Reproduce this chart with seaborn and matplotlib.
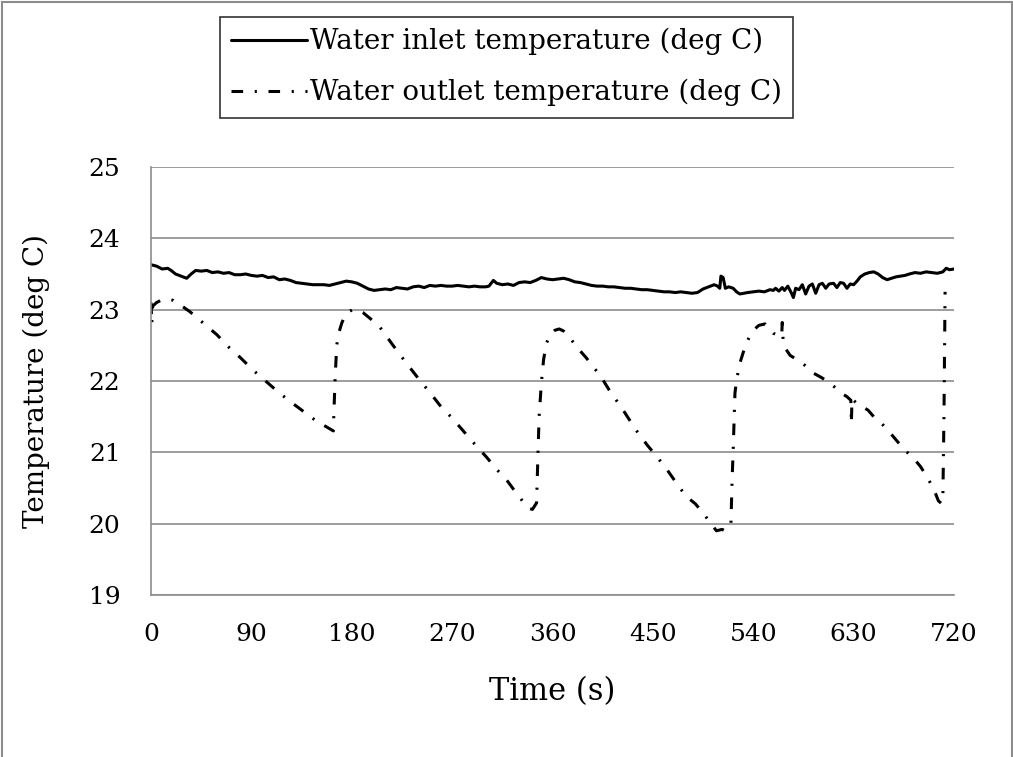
import numpy as np
import pandas as pd
import matplotlib
matplotlib.use("Agg")
import matplotlib.pyplot as plt
import seaborn as sns
from matplotlib.patches import Rectangle

# ---------------- data ----------------
inlet_t = [0, 5, 10, 15, 18, 22, 27, 32, 36, 40, 45, 50, 55, 60, 65, 70, 75, 80, 85, 90,
           95, 100, 105, 110, 115, 120, 125, 130, 135, 140, 145, 150, 155, 160, 165, 170,
           175, 180, 185, 190, 195, 200, 205, 210, 215, 220, 225, 230, 235, 240, 245, 250,
           255, 260, 265, 270, 275, 280, 285, 290, 295, 300, 303, 307, 310, 315, 320, 325,
           330, 335, 340, 345, 350, 355, 360, 365, 370, 375, 380, 385, 390, 395, 400, 405,
           410, 415, 420, 425, 430, 435, 440, 445, 450, 455, 460, 465, 470, 475, 480, 485,
           490, 495, 500, 505, 508, 510, 511, 513, 515, 518, 522, 525, 528, 535, 540, 545,
           550, 555, 558, 560, 563, 566, 568, 571, 574, 576, 578, 581, 584, 587, 590, 593,
           596, 599, 602, 605, 608, 612, 615, 618, 621, 624, 627, 630, 633, 636, 640, 644,
           648, 652, 656, 660, 664, 668, 672, 676, 680, 685, 690, 695, 700, 705, 710, 713,
           716, 720]
inlet_v = [23.63, 23.61, 23.57, 23.58, 23.55, 23.50, 23.47, 23.44, 23.50, 23.55, 23.54, 23.55,
           23.52, 23.53, 23.51, 23.52, 23.49, 23.49, 23.50, 23.48, 23.47, 23.48, 23.45, 23.46,
           23.42, 23.43, 23.41, 23.38, 23.37, 23.36, 23.35, 23.35, 23.35, 23.34, 23.36, 23.38,
           23.40, 23.39, 23.37, 23.33, 23.29, 23.27, 23.28, 23.29, 23.28, 23.31, 23.30, 23.29,
           23.32, 23.33, 23.31, 23.34, 23.33, 23.34, 23.33, 23.33, 23.34, 23.33, 23.32, 23.33,
           23.32, 23.32, 23.33, 23.41, 23.37, 23.35, 23.36, 23.34, 23.38, 23.39, 23.38, 23.41,
           23.45, 23.43, 23.42, 23.43, 23.44, 23.42, 23.39, 23.38, 23.36, 23.34, 23.33, 23.33,
           23.32, 23.32, 23.31, 23.30, 23.30, 23.29, 23.28, 23.28, 23.27, 23.26, 23.25, 23.25,
           23.24, 23.25, 23.24, 23.23, 23.24, 23.29, 23.32, 23.35, 23.33, 23.30, 23.47, 23.45,
           23.30, 23.32, 23.30, 23.25, 23.22, 23.24, 23.25, 23.26, 23.25, 23.28, 23.27, 23.30,
           23.26, 23.31, 23.27, 23.33, 23.24, 23.17, 23.30, 23.28, 23.35, 23.22, 23.33, 23.36,
           23.23, 23.35, 23.37, 23.30, 23.36, 23.37, 23.31, 23.38, 23.37, 23.30, 23.36, 23.35,
           23.40, 23.46, 23.50, 23.52, 23.53, 23.50, 23.45, 23.42, 23.44, 23.46, 23.47, 23.48,
           23.50, 23.52, 23.51, 23.53, 23.52, 23.51, 23.53, 23.58, 23.56, 23.57]

outlet_t = [0, 0.7, 1.5, 5, 10, 15, 20, 26, 35, 47, 59, 70, 80, 91, 102, 113, 125, 137, 149,
            157, 163.5, 164, 165, 166.5, 168.5, 171, 174, 177, 181, 185, 190, 197, 205, 217,
            229, 241, 250, 259, 270, 280, 290, 301, 310, 319, 328, 338, 342, 345.7, 347, 348,
            350, 352, 354.6, 358, 362, 366, 370, 375, 381.5, 390, 399, 405, 411, 423, 435,
            445, 453.6, 463, 472, 480, 488, 495, 503, 507, 512, 515, 520, 521, 522, 523.6,
            525, 528, 532.6, 536, 540, 545, 550.6, 555, 558, 562, 565.5, 566, 567, 573, 582,
            588, 594, 601, 609, 614, 619, 624, 627.5, 628, 628.5, 632.6, 638, 643, 648,
            653.7, 660, 665.6, 671, 676, 683.6, 690, 696, 702, 706, 709, 710, 711, 712]
outlet_v = [23.10, 22.80, 23.05, 23.10, 23.14, 23.15, 23.13, 23.07, 22.97, 22.81, 22.65,
            22.47, 22.33, 22.16, 22.01, 21.86, 21.71, 21.57, 21.43, 21.36, 21.30, 21.56,
            22.00, 22.50, 22.68, 22.81, 22.92, 22.97, 23.00, 23.00, 22.96, 22.87, 22.76,
            22.50, 22.25, 22.01, 21.84, 21.66, 21.48, 21.30, 21.12, 20.93, 20.76, 20.61,
            20.42, 20.22, 20.20, 20.29, 20.99, 21.50, 21.97, 22.30, 22.53, 22.65, 22.71,
            22.73, 22.70, 22.62, 22.48, 22.33, 22.15, 22.02, 21.87, 21.60, 21.31, 21.10,
            20.94, 20.75, 20.55, 20.38, 20.28, 20.15, 19.98, 19.90, 19.92, 19.90, 20.00,
            20.60, 21.03, 21.83, 22.01, 22.25, 22.48, 22.60, 22.71, 22.78, 22.80, 22.72,
            22.67, 22.64, 22.63, 22.82, 22.50, 22.36, 22.27, 22.20, 22.11, 22.05, 21.97,
            21.90, 21.83, 21.78, 21.73, 21.40, 21.75, 21.69, 21.64, 21.59, 21.50, 21.43,
            21.32, 21.22, 21.12, 21.03, 20.92, 20.80, 20.65, 20.48, 20.32, 20.28, 20.35,
            21.50, 23.25]

x_ticks = [0, 90, 180, 270, 360, 450, 540, 630, 720]
y_ticks = [19, 20, 21, 22, 23, 24, 25]
inlet_label = "Water inlet temperature (deg C)"
outlet_label = "Water outlet temperature (deg C)"

# ---------------- plot ----------------
sns.set_theme(style="white")
plt.rcParams['font.family'] = ['DejaVu Serif']
plt.rcParams['text.color'] = 'black'
plt.rcParams['axes.labelcolor'] = 'black'
plt.rcParams['xtick.color'] = 'black'
plt.rcParams['ytick.color'] = 'black'

W, H = 1013, 757
fig = plt.figure(figsize=(W / 100, H / 100), dpi=100)
ax = fig.add_axes([151 / W, 1 - 595 / H, 803 / W, 428 / H])

df_in = pd.DataFrame({"t": inlet_t, "v": inlet_v})
df_out = pd.DataFrame({"t": outlet_t, "v": outlet_v})

sns.lineplot(data=df_in, x="t", y="v", ax=ax, color="black", lw=2.2,
             label=inlet_label, sort=False, estimator=None)
sns.lineplot(data=df_out, x="t", y="v", ax=ax, color="black", lw=2.2,
             label=outlet_label, sort=False, estimator=None)
ax.lines[1].set_linestyle((0, (3.8, 3.8, 0.7, 3.8)))

ax.set_xlim(0, 720)
ax.set_ylim(19, 25)
ax.set_xticks(x_ticks)
ax.set_yticks(y_ticks)
ax.set_xticklabels([str(v) for v in x_ticks])
ax.set_yticklabels([str(v) for v in y_ticks])
ax.tick_params(axis="both", length=0, labelsize=18, colors="black")
ax.tick_params(axis="x", pad=20)
ax.tick_params(axis="y", pad=22)

ax.yaxis.grid(True, color="#8c8c8c", lw=1.2)
ax.xaxis.grid(False)
for s in ["top", "right"]:
    ax.spines[s].set_visible(False)
ax.spines["left"].set_color("#8c8c8c")
ax.spines["left"].set_linewidth(1.2)
ax.spines["bottom"].set_color("#8c8c8c")
ax.spines["bottom"].set_linewidth(1.2)

ax.set_xlabel("Time (s)", fontsize=22, labelpad=22, color="black")
ax.set_ylabel("Temperature (deg C)", fontsize=20, labelpad=28, color="black")

ax.get_legend().remove()
handles, labels = ax.get_legend_handles_labels()
leg = fig.legend(handles, labels, loc="upper center", bbox_to_anchor=(0.5, 1 - 17 / H),
                 frameon=True, fancybox=False, edgecolor="black", fontsize=20,
                 handlelength=2.75, handletextpad=0.1, borderpad=0.4, labelspacing=0.85,
                 borderaxespad=0, labelcolor="black")
leg.get_frame().set_linewidth(1.2)

fig.patches.append(Rectangle((1.5 / W, -0.01), (W - 3) / W, 1 - 1.5 / H + 0.01,
                             transform=fig.transFigure, fill=False,
                             edgecolor="#8c8c8c", lw=1.5))

fig.savefig("out.png", dpi=100)
